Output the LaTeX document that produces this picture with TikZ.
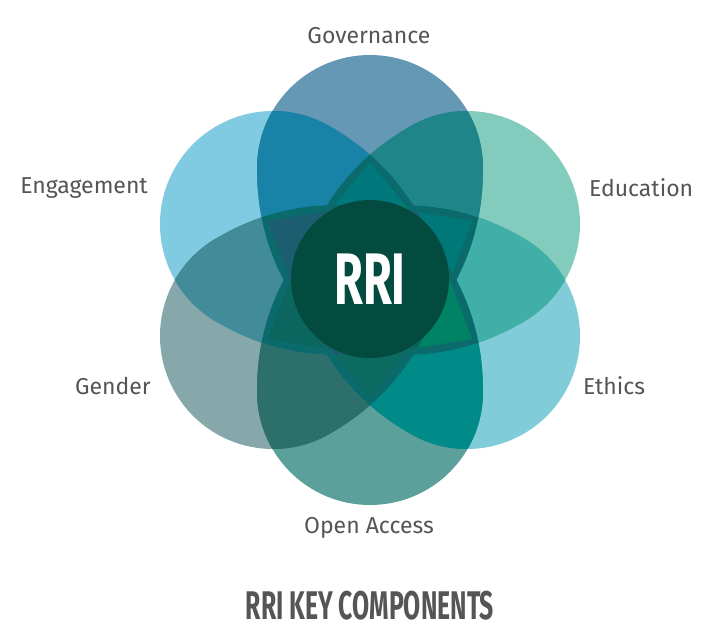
\documentclass[tikz,border=0pt]{standalone}
\usepackage{fontspec}
\setmainfont{Fira Sans}
\newfontfamily\etroite[FakeStretch=0.64]{Fira Sans}
\newfontfamily\titrefont[FakeStretch=0.62]{Fira Sans}
\usetikzlibrary{positioning}

\definecolor{gouv}{HTML}{6498B5}
\definecolor{educ}{HTML}{82CBBD}
\definecolor{ethi}{HTML}{80CDD9}
\definecolor{oacc}{HTML}{5BA09B}
\definecolor{gend}{HTML}{87A8AB}
\definecolor{enga}{HTML}{80CAE2}
\definecolor{coeur}{HTML}{034B3E}
\definecolor{gristexte}{HTML}{555555}
% recouvrements de deux pétales voisins
\definecolor{paireA}{HTML}{1F8589}
\definecolor{paireB}{HTML}{40AFA7}
\definecolor{paireC}{HTML}{008B89}
\definecolor{paireD}{HTML}{2D6F6A}
\definecolor{paireE}{HTML}{428B99}
\definecolor{paireF}{HTML}{1883A6}
% zones centrales (trois pétales ou plus)
\definecolor{bande}{HTML}{0A6A6C}
\definecolor{pointeA}{HTML}{00787C}
\definecolor{pointeB}{HTML}{007878}
\definecolor{pointeC}{HTML}{008264}
\definecolor{pointeD}{HTML}{0C6A61}
\definecolor{pointeE}{HTML}{0B6660}
\definecolor{pointeF}{HTML}{1C5E70}

% forme d'un pétale, pointé vers le haut
\newcommand\goutte{(0,-118) .. controls (-63,-40.3) and (-113,12) .. (-113,112)
    arc[start angle=180, end angle=0, radius=113]
    .. controls (113,12) and (63,-40.3) .. (0,-118) -- cycle}

\tikzset{
  etiquette/.style={text=gristexte, inner sep=0pt, font=\fontsize{23}{26}\selectfont},
  noyau/.style={circle, fill=coeur, inner sep=0pt, minimum size=158, text=white,
    font=\etroite\bfseries\fontsize{73}{73}\selectfont},
  titre/.style={text=gristexte, inner sep=0pt, font=\titrefont\bfseries\fontsize{40}{40}\selectfont},
}

\begin{document}
\begin{tikzpicture}[x=1pt, y=1pt]
    \useasboundingbox (-370,-359) rectangle (338,280);

    % Pétales
    \begin{scope}[blend group=multiply]
        \foreach \ang/\coul in {90/gouv, 30/educ, -30/ethi, -90/oacc, -150/gend, 150/enga}
            \fill[\coul, rotate=\ang-90] \goutte;
    \end{scope}

    % Deux pétales voisins (pétale k tourné de -60k)
    \foreach \p/\q/\coul in {0/1/paireA, 1/2/paireB, 2/3/paireC, 3/4/paireD, 4/5/paireE, 5/0/paireF}{
        \begin{scope}
            \clip[rotate=-60*\p] \goutte;
            \clip[rotate=-60*\q] \goutte;
            \fill[\coul] (-400,-400) rectangle (400,400);
        \end{scope}
    }

    % Zones couvertes par trois pétales
    \foreach \p/\q/\r in {0/1/2, 0/1/3, 0/1/4, 0/1/5, 0/2/3, 0/2/4, 0/2/5, 0/3/4, 0/3/5, 0/4/5,
                          1/2/3, 1/2/4, 1/2/5, 1/3/4, 1/3/5, 1/4/5, 2/3/4, 2/3/5, 2/4/5, 3/4/5}{
        \begin{scope}
            \clip[rotate=-60*\p] \goutte;
            \clip[rotate=-60*\q] \goutte;
            \clip[rotate=-60*\r] \goutte;
            \fill[bande] (-400,-400) rectangle (400,400);
        \end{scope}
    }

    % Pointes de l'étoile
    \foreach \d/\coul in {90/pointeA, 30/pointeB, -30/pointeC, -90/pointeD, -150/pointeE, 150/pointeF}{
        \begin{scope}
            \clip[rotate=\d+90] \goutte;
            \clip[rotate=\d-90] \goutte;
            \clip[rotate=\d-30] \goutte;
            \clip[rotate=\d-150] \goutte;
            \fill[\coul] (-400,-400) rectangle (400,400);
        \end{scope}
    }

    % Coeur
    \node[noyau] (rri) at (0,1) {RRI};

    % Étiquettes
    \node[etiquette] (gouvernance) at (-1,244) {Governance};
    \node[etiquette, anchor=east] (engagement) at (-222,92) {Engagement};
    \node[etiquette, anchor=west] (education) at (219,92) {Education};
    \node[etiquette, anchor=east] (genre) at (-219,-106) {Gender};
    \node[etiquette, anchor=west] (ethique) at (213,-106) {Ethics};
    \node[etiquette] (acces) at (-1,-248) {Open Access};

    \node[titre] (titre) at (0,-326) {RRI KEY COMPONENTS};

\end{tikzpicture}
\end{document}
